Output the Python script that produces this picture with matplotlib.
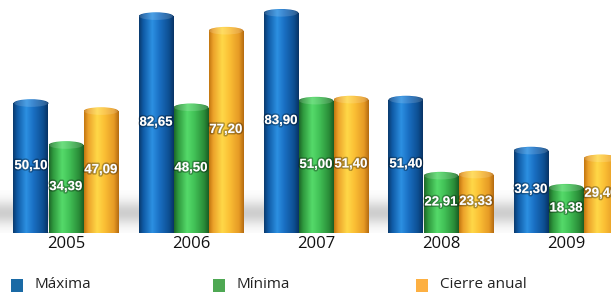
import numpy as np
import matplotlib
matplotlib.use("Agg")
import matplotlib.pyplot as plt
from matplotlib.colors import LinearSegmentedColormap
from matplotlib.patches import Rectangle, Ellipse
import matplotlib.patheffects as pe

years = ["2005", "2006", "2007", "2008", "2009"]
series = ["Máxima", "Mínima", "Cierre anual"]
maxima = [50.10, 82.65, 83.90, 51.40, 32.30]
minima = [34.39, 48.50, 51.00, 22.91, 18.38]
cierre = [47.09, 77.20, 51.40, 23.33, 29.40]

legend_colors = ["#1a6aa5", "#4ea853", "#fdb042"]
grad_stops = [
    ["#0a3a6c", "#0f5aa5", "#2c90e2", "#1a70c4", "#0d4f92", "#083364"],
    ["#1c6628", "#2f9a3e", "#55da6a", "#42c257", "#2a8d38", "#1a5c24"],
    ["#c27510", "#eca22a", "#ffd848", "#fbc035", "#e69a25", "#b46a10"],
]
stop_pos = [0.0, 0.12, 0.38, 0.58, 0.86, 1.0]

plt.rcParams["font.family"] = ["Open Sans", "DejaVu Sans"]

fig = plt.figure(figsize=(6.11, 2.95), dpi=100)
ax = fig.add_axes([0, 62 / 295, 1, 233 / 295])
ax.set_xlim(-66 / 125, (611 - 66) / 125)
ax.set_ylim(0, 233 / 2.67)
ax.axis("off")

# soft shadow band behind the bars
yy = np.linspace(0, 16, 120)
alpha = np.exp(-((yy - 7.5) / 4.5) ** 2) * 0.38
band = np.zeros((120, 1, 4))
band[..., :3] = 0.5
band[:, 0, 3] = alpha
ax.imshow(band, extent=[-1, 5, 0, 16], origin="lower", aspect="auto",
          interpolation="bilinear", zorder=0)

width = 0.28
offsets = [-width, 0, width]
cap = 1.5  # half height of the ellipse caps, data units
grad = np.linspace(0, 1, 256).reshape(1, -1)
x = np.arange(len(years))

for k, vals in enumerate([maxima, minima, cierre]):
    cmap = LinearSegmentedColormap.from_list(
        "c%d" % k, list(zip(stop_pos, grad_stops[k])))
    bars = ax.bar(x + offsets[k], vals, width, color="none", zorder=2)
    for bar, v in zip(bars, vals):
        x0 = bar.get_x()
        xc = x0 + width / 2
        body = Rectangle((x0, 0), width, v - cap, transform=ax.transData)
        top = Ellipse((xc, v - cap), width, 2 * cap, transform=ax.transData)
        bottom = Ellipse((xc, 0), width, 2 * cap, transform=ax.transData)
        for clip in [bottom, body, top]:
            im = ax.imshow(grad, cmap=cmap, extent=[x0, x0 + width, -cap, v],
                           aspect="auto", zorder=2, interpolation="bilinear")
            im.set_clip_path(clip)
            im.set_clip_on(True)
        # lighter top face
        ax.add_patch(Ellipse((xc, v - cap), width * 0.96, 2 * cap * 0.9,
                             facecolor="white", alpha=0.15, lw=0, zorder=3))
        label = ("%.2f" % v).replace(".", ",")
        ax.text(xc, v / 2, label, ha="center", va="center", color="white",
                fontsize=9.5, fontweight="bold", family="Liberation Sans",
                zorder=4,
                path_effects=[pe.withStroke(linewidth=2.2,
                                            foreground=(0, 0, 0, 0.3))])

for i, yr in enumerate(years):
    ax.text(i, -4.1, yr, ha="center", va="center", fontsize=12,
            color="#111111", clip_on=False)

# legend
legend_x = [11, 213, 416]
for c, name, lx in zip(legend_colors, series, legend_x):
    fig.patches.append(Rectangle((lx / 611, (295 - 292) / 295), 12 / 611,
                                 13 / 295, transform=fig.transFigure,
                                 facecolor=c, lw=0))
    fig.text((lx + 24) / 611, (295 - 285) / 295, name, ha="left",
             va="center", fontsize=11, color="#222222")

fig.savefig("out.png", dpi=100)
